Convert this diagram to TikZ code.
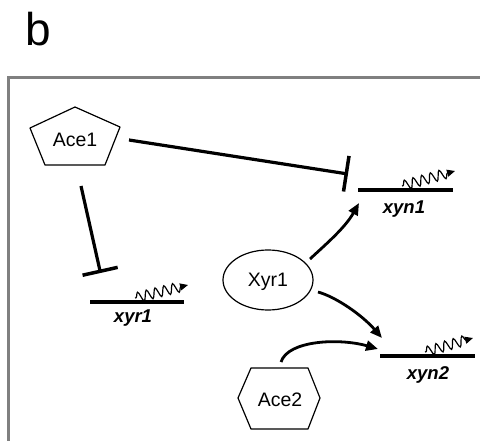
\documentclass[tikz,border=0pt]{standalone}
\usepackage{fontspec}
\setmainfont{Liberation Sans}
\usetikzlibrary{arrows.meta,decorations.pathmorphing,shapes.geometric}
\definecolor{framegray}{RGB}{128,128,128}
\begin{document}
\begin{tikzpicture}[x=1pt,y=-1pt,
  shapeline/.style={draw=black, line width=1.2pt, line join=round},
  lbl/.style={font=\fontsize{19.5}{19.5}\selectfont, anchor=base, inner sep=0pt},
  genelbl/.style={font=\fontsize{18.5}{18.5}\selectfont\bfseries\itshape, anchor=base, inner sep=0pt},
  gene/.style={line width=4pt},
  inhib/.style={line width=3.2pt, -{Bar[width=36pt, line width=3.5pt]}},
  act/.style={line width=2.8pt, -{Triangle[length=12pt,width=10pt]}},
  mrna/.style={line width=1.2pt, decorate,
    decoration={snake, amplitude=5pt, segment length=9pt, pre length=1pt, post length=7pt},
    -{Triangle[length=8pt,width=7pt]}},
]
\useasboundingbox (0,0) rectangle (480,441);
% panel letter
\node[font=\fontsize{46}{46}\selectfont, anchor=base west, inner sep=0pt] (letter) at (25,46) {b};
% frame
\draw[framegray, line width=3pt] (8,445) -- (8,78) -- (485,78);

% Ace1 pentagon
\draw[shapeline] (75,107) -- (120,127) -- (105,165) -- (45,165) -- (30,128) -- cycle;
\node[lbl] (ace1) at (75,147) {Ace1};

% Ace2 hexagon
\draw[shapeline] (238,398) -- (251,368) -- (308,368) -- (320,398) -- (308,429) -- (251,429) -- cycle;
\node[lbl] (ace2) at (280,406) {Ace2};

% Xyr1 ellipse
\node[ellipse, draw=black, line width=1.2pt, minimum width=90pt, minimum height=60pt] (xyr1p) at (268,280) {};
\node[lbl] (xyr1t) at (268,287) {Xyr1};

% genes
\coordinate (g1a) at (90,302);  \coordinate (g1b) at (184,302);
\coordinate (g2a) at (358,190); \coordinate (g2b) at (453,190);
\coordinate (g3a) at (380,356); \coordinate (g3b) at (475,356);
\draw[gene] (g1a) -- (g1b);
\draw[gene] (g2a) -- (g2b);
\draw[gene] (g3a) -- (g3b);
\node[genelbl] (xyr1g) at (133,323) {xyr1};
\node[genelbl] (xyn1g) at (404,214) {xyn1};
\node[genelbl] (xyn2g) at (428,379) {xyn2};

% mRNA squiggles
\coordinate (m1s) at (135,298); \coordinate (m1e) at (188,285);
\coordinate (m2s) at (402,186); \coordinate (m2e) at (455,171);
\coordinate (m3s) at (425,352); \coordinate (m3e) at (473,338);
\draw[mrna] (m1s) -- (m1e);
\draw[mrna] (m2s) -- (m2e);
\draw[mrna] (m3s) -- (m3e);

% inhibitions
\coordinate (i1s) at (81,186); \coordinate (i1e) at (100.5,273);
\coordinate (i2s) at (129,140); \coordinate (i2e) at (348,174);
\draw[inhib] (i1s) -- (i1e);
\draw[inhib] (i2s) -- (i2e);

% activations
\coordinate (a1s) at (310,259); \coordinate (a1e) at (359,203);
\coordinate (a2s) at (318,292); \coordinate (a2e) at (382,338);
\coordinate (a3s) at (281,362); \coordinate (a3e) at (378,349);
\draw[act] (a1s) .. controls (325,245) and (345,228) .. (a1e);
\draw[act] (a2s) .. controls (336,297) and (362,315) .. (a2e);
\draw[act] (a3s) .. controls (288,340) and (340,338) .. (a3e);
\end{tikzpicture}
\end{document}
